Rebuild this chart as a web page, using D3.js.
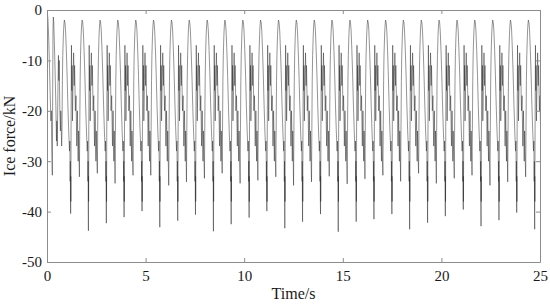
<!DOCTYPE html>
<html>
<head>
<meta charset="utf-8">
<script src="https://cdn.jsdelivr.net/npm/d3@7"></script>
<style>
  body { margin: 0; background: #fff; }
  svg { display: block; }
</style>
</head>
<body>
<svg id="chart" width="550" height="307"></svg>
<script>
// start-up transient, before the first regular cycle
const startTimes = [0, 0.02, 0.05, 0.09, 0.13, 0.17, 0.2, 0.22, 0.24, 0.27, 0.29, 0.305, 0.32, 0.34, 0.37, 0.41, 0.45, 0.48, 0.5, 0.52, 0.55, 0.58, 0.6, 0.62, 0.65, 0.68, 0.7];
const startForce = [0, -0.4, -2, -6, -12, -18, -22, -20, -27, -32.8, -15, -4, -1.4, -2.2, -6, -12, -19, -26, -22, -27, -17, -9, -14, -10, -20, -24, -20];

// time of every arch top (s)
const archTimes = [0.88, 1.78, 2.69, 3.59, 4.5, 5.4, 6.31, 7.21, 8.12, 9.02, 9.93, 10.83, 11.74, 12.64,
  13.55, 14.45, 15.36, 16.26, 17.17, 18.07, 18.98, 19.88, 20.79, 21.69, 22.6, 23.5, 24.41];
// deepest spike after each arch (kN)
const deepMins = [-40.4, -43.8, -42.3, -41.1, -39.9, -43.1, -41.8, -40.6, -43.9, -42.5, -41.2, -39.9, -43.3, -42.0,
  -40.5, -44.0, -42.0, -41.5, -40.5, -43.5, -42.2, -40.9, -39.6, -42.9, -41.7, -40.2, -43.5];
// shallow dip just before each arch (kN)
const shallowMins = [-27, -33.1, -32.4, -34.4, -32.8, -32.8, -34.8, -34.1, -33.4, -32.4, -34.4, -33.8, -33.1, -34.8,
  -34.1, -33.0, -34.5, -33.5, -32.8, -34.0, -32.4, -34.4, -33.4, -32.8, -34.8, -34.1, -33.1];

// shape of one cycle, offsets from the arch top (s); null = per-cycle dip
const cycleOffsets = [-0.137, -0.12, -0.1, -0.08, -0.05, -0.025, 0, 0.03, 0.06, 0.1, 0.14, 0.18, 0.22, 0.26, 0.28, 0.295, 0.305, 0.31,
  0.32, 0.325, 0.33, 0.34, 0.36, 0.38, 0.39, 0.41, 0.44, 0.47, 0.5, 0.52, 0.56, 0.59, 0.63, 0.66, 0.7, 0.72, 0.74];
const cycleForce = [null, -24, -14, -9, -5, -3, -2, -2.5, -4, -8, -13, -19, -24, -28, -26, -34, -30, -37,
  null, -33, -38, -24, -7, -16, -11, -22, -14, -8.5, -15, -11, -20, -17, -27, -20, -30, -24, -28];

const xTicks = [0, 5, 10, 15, 20, 25];
const yTicks = [0, -10, -20, -30, -40, -50];

var series = startTimes.map(function(t, i) { return [t, startForce[i]]; });
archTimes.forEach(function(ta, k) {
  cycleOffsets.forEach(function(o, i) {
    var v = cycleForce[i];
    if (v === null) v = o < 0 ? shallowMins[k] : deepMins[k];
    series.push([ta + o, v]);
  });
});

const svg = d3.select('#chart');
const x = d3.scaleLinear().domain([0, 25]).range([47, 540]);
const y = d3.scaleLinear().domain([-50, 0]).range([262, 10]);

svg.append('clipPath').attr('id', 'plot')
  .append('rect')
  .attr('x', x(0)).attr('y', y(0) - 1)
  .attr('width', x(25) - x(0)).attr('height', y(-50) - y(0) + 2);

svg.append('path')
  .datum(series)
  .attr('clip-path', 'url(#plot)')
  .attr('fill', 'none')
  .attr('stroke', '#2a2a2a')
  .attr('stroke-width', 0.5)
  .attr('stroke-linejoin', 'round')
  .attr('d', d3.line()
    .x(function(d) { return x(d[0]); })
    .y(function(d) { return y(d[1]); }));

function styleAxis(g) {
  g.selectAll('.domain').attr('stroke', '#8c8c8c');
  g.selectAll('.tick line').attr('stroke', '#8c8c8c');
  g.selectAll('text')
    .attr('fill', '#1a1a1a')
    .style('font-family', '"Liberation Serif", "Times New Roman", serif')
    .style('font-size', '15px');
}

svg.append('g')
  .attr('transform', 'translate(0,' + y(-50) + ')')
  .call(d3.axisBottom(x).tickValues(xTicks).tickSizeInner(-4).tickSizeOuter(0).tickPadding(8))
  .call(styleAxis);
svg.append('g')
  .attr('transform', 'translate(0,' + y(0) + ')')
  .call(d3.axisTop(x).tickValues(xTicks).tickSizeInner(-4).tickSizeOuter(0).tickFormat(''))
  .call(styleAxis);
svg.append('g')
  .attr('transform', 'translate(' + x(0) + ',0)')
  .call(d3.axisLeft(y).tickValues(yTicks).tickSizeInner(-4).tickSizeOuter(0).tickPadding(5)
    .tickFormat(function(d) { return d < 0 ? '-' + Math.abs(d) : d; }))
  .call(styleAxis);
svg.append('g')
  .attr('transform', 'translate(' + x(25) + ',0)')
  .call(d3.axisRight(y).tickValues(yTicks).tickSizeInner(-4).tickSizeOuter(0).tickFormat(''))
  .call(styleAxis);

svg.append('text')
  .attr('x', (x(0) + x(25)) / 2)
  .attr('y', 299)
  .attr('text-anchor', 'middle')
  .attr('fill', '#1a1a1a')
  .style('font-family', '"Liberation Serif", "Times New Roman", serif')
  .style('font-size', '16px')
  .text('Time/s');

svg.append('text')
  .attr('transform', 'translate(15,' + (y(0) + y(-50)) / 2 + ')rotate(-90)')
  .attr('text-anchor', 'middle')
  .attr('fill', '#1a1a1a')
  .style('font-family', '"Liberation Serif", "Times New Roman", serif')
  .style('font-size', '16px')
  .text('Ice force/kN');
</script>
</body>
</html>
